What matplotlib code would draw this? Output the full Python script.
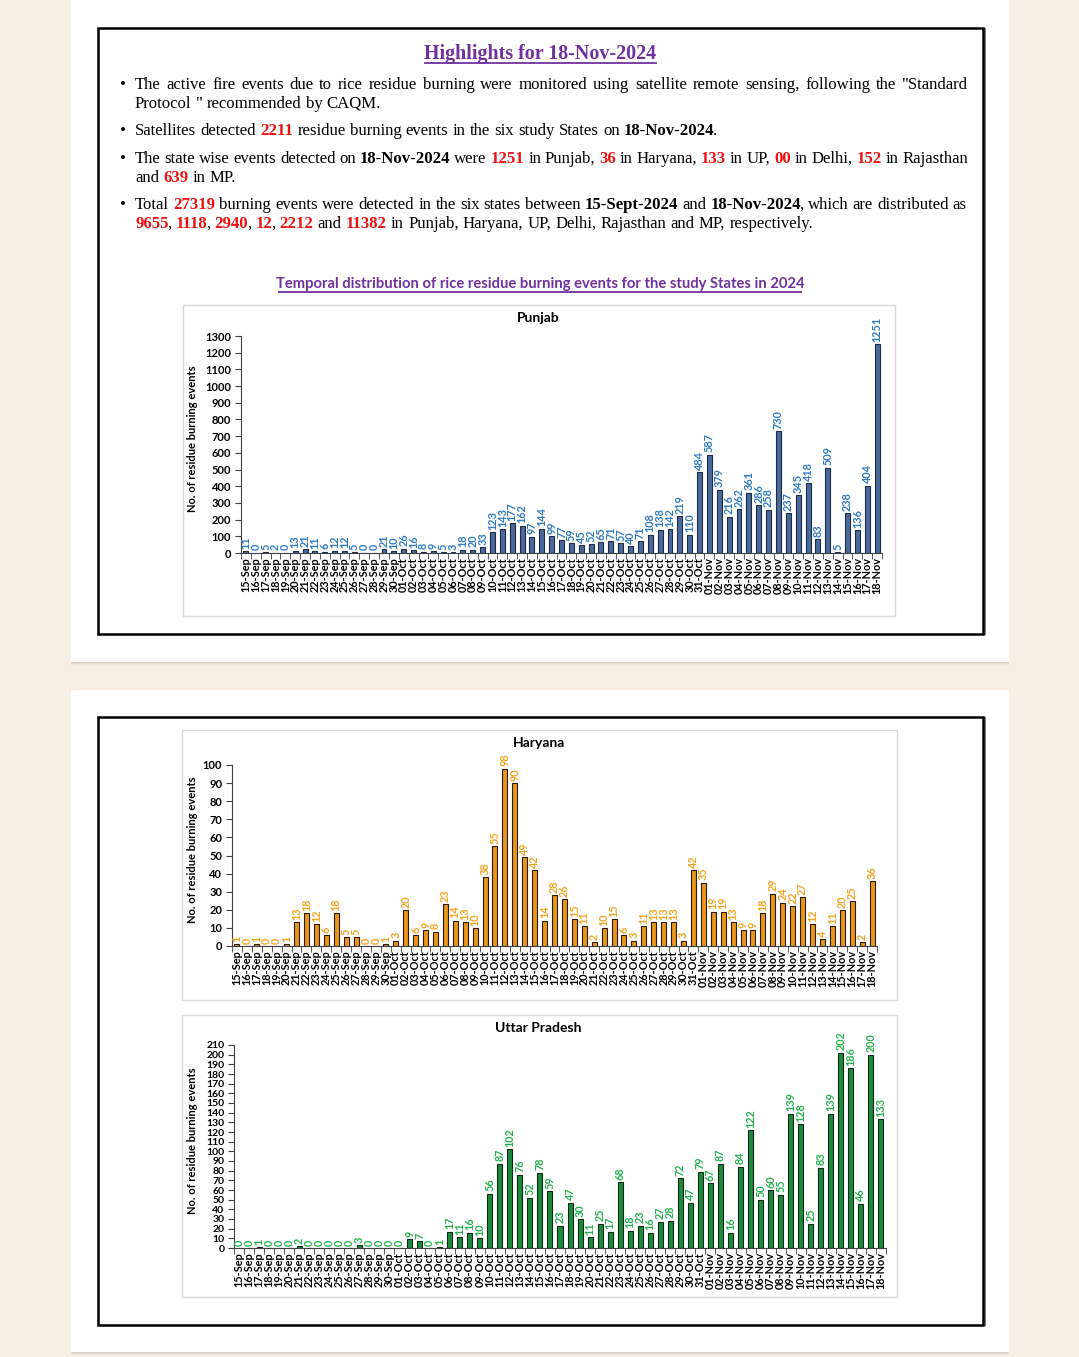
import matplotlib.pyplot as plt
from matplotlib.patches import Rectangle
import numpy as np

W, H = 1079, 1357

# categories: 15-Sep .. 18-Nov
dates = ([f'{d}-Sep' for d in range(15, 31)] +
         [f'{d:02d}-Oct' for d in range(1, 32)] +
         [f'{d:02d}-Nov' for d in range(1, 19)])

punjab = [11, 0, 5, 2, 0, 13, 21, 11, 6, 12, 12, 5, 0, 0, 21, 10,
          26, 16, 8, 9, 5, 3, 18, 20, 33, 123, 143, 177, 162, 97, 144, 99,
          77, 59, 45, 52, 65, 71, 57, 40, 71, 108, 138, 142, 219, 110, 484,
          587, 379, 216, 262, 361, 286, 258, 730, 237, 345, 418, 83, 509, 5,
          238, 136, 404, 1251]
haryana = [1, 0, 1, 0, 0, 1, 13, 18, 12, 6, 18, 5, 5, 0, 0, 1,
           3, 20, 6, 9, 8, 23, 14, 13, 10, 38, 55, 98, 90, 49, 42, 14,
           28, 26, 15, 11, 2, 10, 15, 6, 3, 11, 13, 13, 13, 3, 42,
           35, 19, 19, 13, 9, 9, 18, 29, 24, 22, 27, 12, 4, 11, 20, 25, 2, 36]
uttar_pradesh = [0, 0, 1, 0, 0, 0, 2, 0, 0, 0, 0, 0, 3, 0, 0, 0,
                 0, 9, 7, 0, 1, 17, 11, 16, 10, 56, 87, 102, 76, 52, 78, 59,
                 23, 47, 30, 11, 25, 17, 68, 18, 23, 16, 27, 28, 72, 47, 79,
                 67, 87, 16, 84, 122, 50, 60, 55, 139, 128, 25, 83, 139, 202,
                 186, 46, 200, 133]

bullets = [
    ['The active fire events due to rice residue burning were monitored using satellite remote sensing, following the "Standard',
     'Protocol " recommended by CAQM.'],
    ['Satellites detected #2211# residue burning events in the six study States on *18-Nov-2024*.'],
    ['The state wise events detected on *18-Nov-2024* were #1251# in Punjab, #36# in Haryana, #133# in UP, #00# in Delhi, #152# in Rajasthan',
     'and #639# in MP.'],
    ['Total #27319# burning events were detected in the six states between *15-Sept-2024* and *18-Nov-2024*, which are distributed as',
     '#9655#, #1118#, #2940#, #12#, #2212# and #11382# in Punjab, Haryana, UP, Delhi, Rajasthan and MP, respectively.'],
]
bullet_y = [[89, 108], [135], [163, 182], [209, 228]]

fig = plt.figure(figsize=(W / 100, H / 100), dpi=100)
fig.patch.set_facecolor('#f7eee6')
bg = fig.add_axes([0, 0, 1, 1])
bg.set_xlim(0, W)
bg.set_ylim(H, 0)
bg.axis('off')
renderer = fig.canvas.get_renderer()

# pages + shadows
for top, bot in [(0, 662), (690, 1352)]:
    for i, c in enumerate(['#d6cfc8', '#e2dad3', '#ece4dd', '#f2eae3']):
        bg.add_patch(Rectangle((71, bot + i), 938, 1.2, color=c, lw=0))
    bg.add_patch(Rectangle((71, top), 938, bot - top, color='white', lw=0))
for top, bot in [(28, 634), (717, 1325)]:
    bg.add_patch(Rectangle((983, top), 2.5, bot - top + 1, color='#808080', lw=0))
    bg.add_patch(Rectangle((98, top), 885, bot - top, fill=False, ec='black', lw=1.8))


def px_axes(x0, y0, x1, y1):
    return fig.add_axes([x0 / W, 1 - y1 / H, (x1 - x0) / W, (y1 - y0) / H])


def text_w(s, **kw):
    t = bg.text(0, 0, s, **kw)
    w = t.get_window_extent(renderer).width
    t.remove()
    return w


def adv_w(s, **kw):
    # advance width: measure against a reference glyph
    return text_w(s + 'H', **kw) - text_w('H', **kw)


STY = {'n': dict(color='black'),
       'b': dict(color='black', weight='bold'),
       'r': dict(color='#ee1111', weight='bold')}


def parse(s):
    pieces, cur, st = [], '', 'n'
    for ch in s:
        if ch in '*#':
            if cur:
                pieces.append((cur, st))
            cur = ''
            new = 'b' if ch == '*' else 'r'
            st = new if st == 'n' else 'n'
        else:
            cur += ch
    if cur:
        pieces.append((cur, st))
    words = [[]]
    for txt, st in pieces:
        for i, p in enumerate(txt.split(' ')):
            if i > 0:
                words.append([])
            if p:
                words[-1].append((p, st))
    return [w for w in words if w]


serif = dict(family='Liberation Serif')
fs0 = 11
ref_words = parse(bullets[1][0])
w_ref = sum(adv_w(p, fontsize=fs0, **serif, **STY[st]) for w in ref_words for p, st in w)
w_ref += (len(ref_words) - 1) * adv_w(' ', fontsize=fs0, **serif)
fs = fs0 * 584 / w_ref
space = adv_w(' ', fontsize=fs, **serif)


def draw_line(x0, y, s, right=None):
    words = parse(s)
    widths = [[adv_w(p, fontsize=fs, **serif, **STY[st]) for p, st in w] for w in words]
    total = sum(sum(wl) for wl in widths)
    gap = (right - x0 - total) / (len(words) - 1) if right else space
    x = x0
    for w, wl in zip(words, widths):
        for k, ((p, st), pw) in enumerate(zip(w, wl)):
            if k > 0:
                x -= 1.2  # tighten punctuation after a coloured/bold run
            bg.text(x, y, p, va='baseline', ha='left', fontsize=fs, **serif, **STY[st])
            x += pw
        x += gap


for lines, ys in zip(bullets, bullet_y):
    bg.text(123, ys[0], '\u2022', va='baseline', ha='center', fontsize=fs, **serif)
    for j, (ln, y) in enumerate(zip(lines, ys)):
        draw_line(135, y, ln, right=968 if (len(lines) > 1 and j == 0) else None)


def title_text(x, y, s, target_w, family, **kw):
    f = 12 * target_w / text_w(s, fontsize=12, family=family, weight='bold')
    bg.text(x, y, s, ha='center', va='baseline', fontsize=f, family=family,
            weight='bold', color='#7030a0', **kw)
    bg.plot([x - target_w / 2, x + target_w / 2], [y + 3.5, y + 3.5], color='#7030a0', lw=1.3)


title_text(540.5, 59, 'Highlights for 18-Nov-2024', 231, 'Liberation Serif')
title_text(540, 288, 'Temporal distribution of rice residue burning events for the study States in 2024', 522, 'Lato')

sans = 'Lato'


def bar_chart(frame, rect, title, values, ymax, ystep, ytick_fs, bar_c, edge_c, lab_c):
    fx0, fy0, fx1, fy1 = frame
    bg.add_patch(Rectangle((fx0, fy0), fx1 - fx0, fy1 - fy0, fill=False, ec='#d9d9d9', lw=1))
    bg.text((fx0 + fx1) / 2 - 1, fy0 + 17, title, ha='center', va='baseline', fontsize=10,
            family=sans, weight='bold')
    bg.text(fx0 + 10, (rect[1] + rect[3]) / 2 - 6, 'No. of residue burning events', rotation=90,
            ha='center', va='center', fontsize=8, family=sans, weight='bold')
    ax = px_axes(*rect)
    ax.set_facecolor('none')
    x = np.arange(len(values))
    ax.bar(x, values, width=0.5, color=bar_c, edgecolor=edge_c, linewidth=0.8)
    for xi, v in zip(x, values):
        ax.text(xi, v + ymax * 0.012, str(v), rotation=90, ha='center', va='bottom',
                color=lab_c, fontsize=7.8, family=sans, weight='bold')
    ax.set_xlim(-0.5, len(values) - 0.5)
    ax.set_ylim(0, ymax)
    ax.set_yticks(np.arange(0, ymax + 1, ystep))
    ax.set_yticklabels([str(v) for v in np.arange(0, ymax + 1, ystep)], fontsize=ytick_fs,
                       family=sans, weight='bold')
    ax.set_xticks(x)
    ax.set_xticklabels(dates, rotation=90, fontsize=7.8, family=sans, weight='bold')
    ax.set_xticks(np.arange(-0.5, len(values)), minor=True)
    ax.tick_params(axis='x', which='major', length=0, pad=3)
    ax.tick_params(axis='x', which='minor', length=4, color='#404040')
    ax.tick_params(axis='y', length=4, color='#404040', pad=3)
    for s in ['top', 'right']:
        ax.spines[s].set_visible(False)
    for s in ['left', 'bottom']:
        ax.spines[s].set_color('#404040')
    return ax


bar_chart((183, 305, 895, 616), (241, 336, 882, 553), 'Punjab', punjab, 1300, 100, 8,
          '#4a6a9a', '#1d2b45', '#2e7bc4')
bar_chart((182, 730, 897, 1000), (232, 765, 877, 946), 'Haryana', haryana, 100, 10, 8,
          '#e8961c', '#2a1a00', '#f5a520')
bar_chart((182, 1015, 897, 1297), (234, 1045, 886, 1248), 'Uttar Pradesh', uttar_pradesh, 210, 10, 7.5,
          '#1c8a3c', '#0a2a12', '#25b34f')

fig.savefig('out.png', dpi=100)
